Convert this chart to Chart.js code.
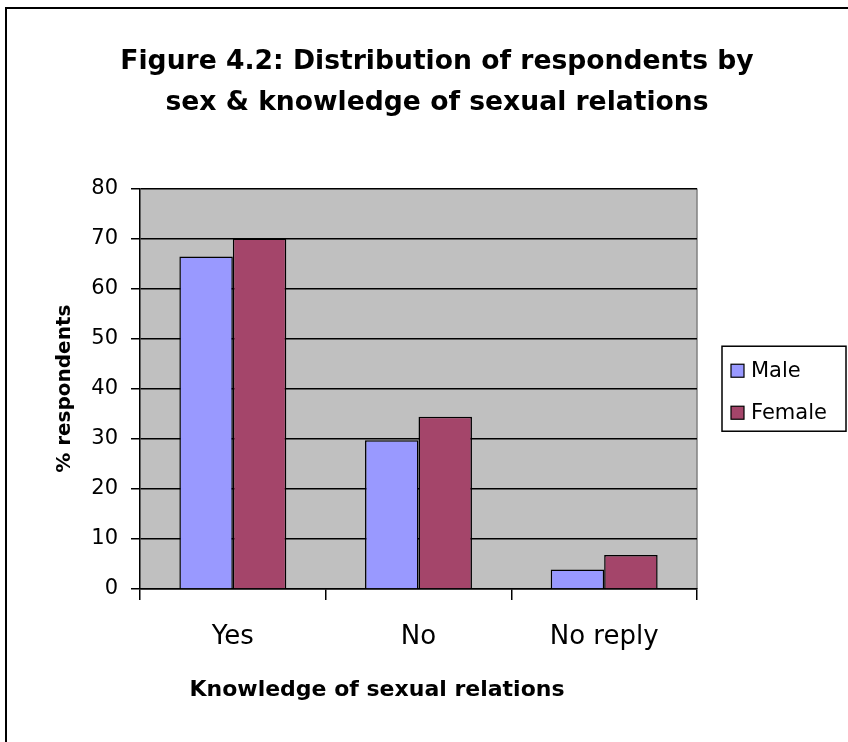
<!DOCTYPE html>
<html>
<head>
<meta charset="utf-8">
<script src="https://cdn.jsdelivr.net/npm/chart.js@4/dist/chart.umd.min.js"></script>
<style>
  html, body { margin: 0; padding: 0; background: #fff; }
  canvas { display: block; }
</style>
</head>
<body>
<canvas id="knowChart" width="848" height="742"></canvas>
<script>
// Knowledge of sexual relations, by sex (% respondents)
var categories = ["Yes", "No", "No reply"];
var maleValues = [66.4, 29.7, 3.9];
var femaleValues = [70.0, 34.4, 6.8];
var yTicks = [0, 10, 20, 30, 40, 50, 60, 70, 80];
var xTitle = "Knowledge of sexual relations";

var FONT = "DejaVu Sans";

// grey plot area, grey right edge and the outer frame
var plotBackground = {
    id: 'plotBackground',
    beforeDraw: function (chart) {
        var ctx = chart.ctx, a = chart.chartArea;
        ctx.save();
        ctx.fillStyle = "#c0c0c0";
        ctx.fillRect(a.left, a.top, a.right - a.left, a.bottom - a.top);
        ctx.strokeStyle = "#808080";
        ctx.lineWidth = 1.5;
        ctx.beginPath();
        ctx.moveTo(a.right, a.top);
        ctx.lineTo(a.right, a.bottom);
        ctx.stroke();
        ctx.strokeStyle = "#000";
        ctx.lineWidth = 2;
        ctx.beginPath();
        ctx.moveTo(6, chart.height);
        ctx.lineTo(6, 8);
        ctx.lineTo(chart.width, 8);
        ctx.stroke();
        ctx.restore();
    }
};

// boxed legend to the right of the plot, plus the category axis title
// (which sits a little left of the plot centre)
var boxLegend = {
    id: 'boxLegend',
    afterDraw: function (chart) {
        var ctx = chart.ctx, a = chart.chartArea;
        var sets = chart.data.datasets;
        var x = a.right + 25, w = 124, rowH = 42;
        var h = sets.length * rowH + 1;
        var y = (a.top + a.bottom) / 2 - h / 2;
        ctx.save();
        ctx.fillStyle = "#fff";
        ctx.fillRect(x, y, w, h);
        ctx.strokeStyle = "#000";
        ctx.lineWidth = 1.5;
        ctx.strokeRect(x, y, w, h);
        ctx.font = "21px '" + FONT + "'";
        ctx.textBaseline = "middle";
        sets.forEach(function (ds, i) {
            var cy = y + rowH / 2 + 4 + i * rowH;
            ctx.fillStyle = ds.backgroundColor;
            ctx.fillRect(x + 9, cy - 7, 13, 13);
            ctx.strokeStyle = "#000";
            ctx.lineWidth = 1.2;
            ctx.strokeRect(x + 9, cy - 7, 13, 13);
            ctx.fillStyle = "#000";
            ctx.fillText(ds.label, x + 29, cy);
        });

        ctx.font = "bold 22px '" + FONT + "'";
        ctx.textAlign = "center";
        ctx.fillStyle = "#000";
        ctx.fillText(xTitle, a.left + 237, a.bottom + 101);
        ctx.restore();
    }
};

var dataKnow = {
    labels: categories,
    datasets: [
        {
            label: "Male",
            data: maleValues,
            backgroundColor: "#9999ff",
            borderColor: "#000",
            borderWidth: 1.5,
            categoryPercentage: 0.576,
            barPercentage: 1.0
        },
        {
            label: "Female",
            data: femaleValues,
            backgroundColor: "#a4456a",
            borderColor: "#000",
            borderWidth: 1.5,
            categoryPercentage: 0.576,
            barPercentage: 1.0
        }
    ]
};

var optKnow = {
    responsive: false,
    animation: false,
    layout: { padding: { left: 26, right: 0, top: 0, bottom: 0 } },
    plugins: {
        legend: { display: false },
        tooltip: { enabled: false },
        title: {
            display: true,
            text: ["Figure 4.2: Distribution of respondents by",
                   "sex & knowledge of sexual relations"],
            color: "#000",
            font: { family: FONT, size: 26.6, weight: "bold", lineHeight: 1.55 },
            padding: { top: 41, bottom: 65 }
        }
    },
    scales: {
        x: {
            grid: { offset: true, drawOnChartArea: false, color: "#000", lineWidth: 1.5, tickLength: 11 },
            border: { color: "#000", width: 1.5 },
            ticks: { color: "#000", font: { family: FONT, size: 26 }, padding: 22, maxRotation: 0 },
            afterFit: function (s) { s.height = 153; }
        },
        y: {
            min: 0,
            max: 80,
            afterBuildTicks: function (s) { s.ticks = yTicks.map(function (v) { return { value: v }; }); },
            grid: { color: "#000", lineWidth: 1.5, tickLength: 9 },
            border: { color: "#000", width: 1.5 },
            ticks: { color: "#000", font: { family: FONT, size: 21 }, padding: 13 },
            title: {
                display: true,
                text: "% respondents",
                color: "#000",
                font: { family: FONT, size: 20, weight: "bold", lineHeight: 1.2 },
                padding: { top: 27, bottom: 0 }
            },
            afterFit: function (s) { s.width = 114; }
        },
        // empty column on the right that holds the legend
        side: {
            type: 'linear',
            position: 'right',
            grid: { display: false },
            border: { display: false },
            ticks: { display: false },
            afterFit: function (s) { s.width = 151; }
        }
    }
};

(function () {
    var knowObj = document.getElementById("knowChart").getContext("2d");
    var knowChart = new Chart(knowObj, {
        type: 'bar',
        data: dataKnow,
        options: optKnow,
        plugins: [plotBackground, boxLegend]
    });
})();
</script>
</body>
</html>
